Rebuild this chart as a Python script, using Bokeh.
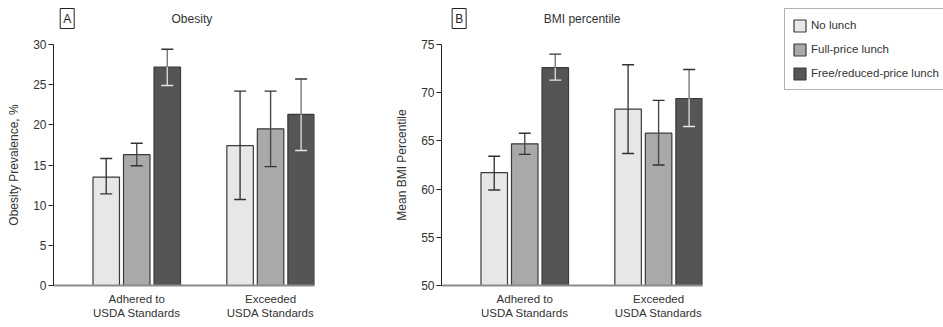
from bokeh.plotting import figure
from bokeh.layouts import row, column
from bokeh.models import (Range1d, FixedTicker, Label, Legend, LegendItem,
                          ColumnDataSource)
from bokeh.embed import file_html
from bokeh.resources import INLINE

# ---------------- data ----------------
categories = ["Adhered to\nUSDA Standards", "Exceeded\nUSDA Standards"]
series = ["No lunch", "Full-price lunch", "Free/reduced-price lunch"]

# Panel A: obesity prevalence, %
obesity_no_lunch = [13.5, 17.4]
obesity_no_lunch_low = [11.4, 10.7]
obesity_no_lunch_high = [15.8, 24.2]
obesity_full_price = [16.3, 19.5]
obesity_full_price_low = [14.9, 14.8]
obesity_full_price_high = [17.7, 24.2]
obesity_free_reduced = [27.2, 21.3]
obesity_free_reduced_low = [24.9, 16.8]
obesity_free_reduced_high = [29.4, 25.7]
obesity_ticks = [0, 5, 10, 15, 20, 25, 30]

# Panel B: mean BMI percentile
bmi_no_lunch = [61.7, 68.3]
bmi_no_lunch_low = [59.9, 63.7]
bmi_no_lunch_high = [63.4, 72.9]
bmi_full_price = [64.7, 65.8]
bmi_full_price_low = [63.6, 62.5]
bmi_full_price_high = [65.8, 69.2]
bmi_free_reduced = [72.6, 69.4]
bmi_free_reduced_low = [71.3, 66.5]
bmi_free_reduced_high = [74.0, 72.4]
bmi_ticks = [50, 55, 60, 65, 70, 75]

# ---------------- style ----------------
FONT = "Liberation Sans"
TXT = "#333333"
FILLS = ["#e6e7e9", "#a8a9ab", "#545557"]
OUTLINE = "#3a3a3a"
UPPER_STEM = ["#3a3a3a", "#4a4a4a", "#777777"]
LOWER_STEM = ["#3a3a3a", "#4a4a4a", "#d6d6d6"]
UPPER_CAP = ["#333333", "#333333", "#333333"]
LOWER_CAP = ["#333333", "#333333", "#e6e6e6"]
OFFSETS = [-0.228, 0.0, 0.228]
BAR_W = 0.198
X_START, X_END = -0.622, 1.328
FRAME_W = 261
FRAME_H = 241
HEAD_H = 36
TOP = 8
BOTTOM = 42


def header(width, tag, tag_x, title, title_x):
    h = figure(width=width, height=HEAD_H, output_backend="svg", toolbar_location=None,
               title=None, x_range=Range1d(0, width), y_range=Range1d(0, HEAD_H),
               x_axis_location=None, y_axis_location=None, min_border=0,
               outline_line_color=None)
    h.grid.visible = False
    h.add_layout(Label(x=tag_x, y=HEAD_H - 18, text=tag, text_align="center",
                       text_baseline="middle", text_font=FONT, text_font_size="12px",
                       text_color="#222222", border_line_color="#222222",
                       border_line_width=1, background_fill_color="white", padding=3))
    h.add_layout(Label(x=title_x, y=HEAD_H - 18.5, text=title, text_align="center",
                       text_baseline="middle", text_font=FONT, text_font_size="12px",
                       text_color=TXT))
    return h


def panel(vals, lows, highs, y0, y1, ticks, ylabel, width, left):
    p = figure(width=width, height=TOP + FRAME_H + BOTTOM, output_backend="svg",
               toolbar_location=None, title=None,
               x_range=Range1d(X_START, X_END), y_range=Range1d(y0, y1),
               min_border_left=left, min_border_right=width - left - FRAME_W,
               min_border_top=TOP, min_border_bottom=BOTTOM,
               outline_line_color=None)
    p.grid.visible = False
    for i in range(len(series)):
        xs = [c + OFFSETS[i] for c in range(len(categories))]
        src = ColumnDataSource(dict(x=xs, top=vals[i], lo=lows[i], hi=highs[i]))
        p.vbar(x="x", top="top", bottom=y0, width=BAR_W, source=src,
               fill_color=FILLS[i], line_color=OUTLINE, line_width=1.2)
        p.segment(x0="x", y0="top", x1="x", y1="hi", source=src,
                  line_color=UPPER_STEM[i], line_width=1.4)
        p.segment(x0="x", y0="lo", x1="x", y1="top", source=src,
                  line_color=LOWER_STEM[i], line_width=1.4)
        p.scatter(x="x", y="hi", source=src, marker="dash", size=12,
                  line_color=UPPER_CAP[i], line_width=1.4)
        p.scatter(x="x", y="lo", source=src, marker="dash", size=12,
                  line_color=LOWER_CAP[i], line_width=1.4)

    xa = p.xaxis[0]
    xa.ticker = FixedTicker(ticks=list(range(len(categories))))
    xa.major_label_overrides = {i: c for i, c in enumerate(categories)}
    xa.major_tick_line_color = None
    xa.minor_tick_line_color = None
    xa.major_tick_out = 0
    xa.major_tick_in = 0
    xa.major_label_standoff = 7
    xa.axis_line_color = "#8c8c8c"
    xa.axis_line_width = 2
    xa.major_label_text_font = FONT
    xa.major_label_text_font_size = "11.5px"
    xa.major_label_text_color = TXT

    ya = p.yaxis[0]
    ya.ticker = FixedTicker(ticks=ticks)
    ya.minor_tick_line_color = None
    ya.major_tick_out = 5
    ya.major_tick_in = 0
    ya.major_tick_line_color = "#222222"
    ya.axis_line_color = "#222222"
    ya.major_label_standoff = 2
    ya.major_label_text_font = FONT
    ya.major_label_text_font_size = "12px"
    ya.major_label_text_color = TXT
    ya.axis_label = ylabel
    ya.axis_label_text_font = FONT
    ya.axis_label_text_font_size = "12px"
    ya.axis_label_text_font_style = "normal"
    ya.axis_label_text_color = TXT
    ya.axis_label_standoff = 9
    return p


WA, WB = 381, 389
ha = header(WA, "A", 20, "Obesity", 202)
pa = panel([obesity_no_lunch, obesity_full_price, obesity_free_reduced],
           [obesity_no_lunch_low, obesity_full_price_low, obesity_free_reduced_low],
           [obesity_no_lunch_high, obesity_full_price_high, obesity_free_reduced_high],
           0, 30, obesity_ticks, "Obesity Prevalence, %", WA, 53)

hb = header(WB, "B", 407.3 - WA, "BMI percentile", 590.5 - WA)
pb = panel([bmi_no_lunch, bmi_full_price, bmi_free_reduced],
           [bmi_no_lunch_low, bmi_full_price_low, bmi_free_reduced_low],
           [bmi_no_lunch_high, bmi_full_price_high, bmi_free_reduced_high],
           50, 75, bmi_ticks, "Mean BMI Percentile", WB, 60)

# legend panel
WL = 943 - WA - WB
pl = figure(width=WL, height=HEAD_H + TOP + FRAME_H + BOTTOM, output_backend="svg",
            toolbar_location=None, title=None,
            x_range=Range1d(0, 1), y_range=Range1d(0, 1),
            x_axis_location=None, y_axis_location=None,
            min_border_left=14, min_border_right=0, min_border_top=8, min_border_bottom=0,
            outline_line_color=None)
pl.grid.visible = False
legend_values = [obesity_no_lunch, obesity_full_price, obesity_free_reduced]
items = []
for i, s in enumerate(series):
    src = ColumnDataSource(dict(x=list(range(len(categories))), top=legend_values[i]))
    r = pl.vbar(x="x", top="top", width=0.1, source=src, fill_color=FILLS[i],
                line_color=OUTLINE, line_width=1.2, visible=False)
    items.append(LegendItem(label=s, renderers=[r]))
legend = Legend(items=items, location="top_left", margin=0, padding=7, spacing=6,
                glyph_width=15, glyph_height=15, label_height=18, label_standoff=4,
                label_text_font=FONT, label_text_font_size="11.5px",
                label_text_color=TXT, border_line_color="#666666",
                border_line_width=1.2, background_fill_color="white",
                background_fill_alpha=1.0, inactive_fill_alpha=0.0)
pl.add_layout(legend)

layout = row(column(ha, pa), column(hb, pb), pl)
open("out.html", "w").write(file_html(layout, INLINE))
